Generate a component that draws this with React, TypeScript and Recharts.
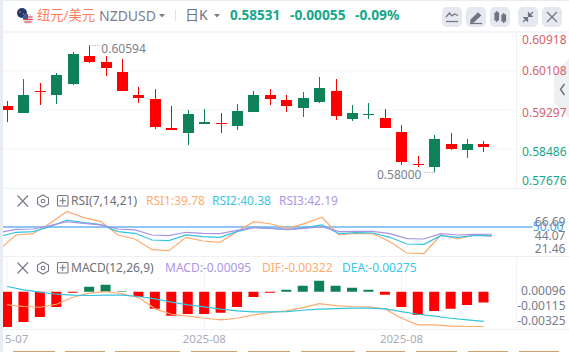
import { ComposedChart, Bar, Line, Cell, XAxis, YAxis, CartesianGrid, ReferenceLine, ReferenceDot } from "recharts";

const dates = [
  "2025-07-18", "2025-07-21", "2025-07-22", "2025-07-23", "2025-07-24", "2025-07-25",
  "2025-07-28", "2025-07-29", "2025-07-30", "2025-07-31", "2025-08-01", "2025-08-04",
  "2025-08-05", "2025-08-06", "2025-08-07", "2025-08-08", "2025-08-11", "2025-08-12",
  "2025-08-13", "2025-08-14", "2025-08-15", "2025-08-18", "2025-08-19", "2025-08-20",
  "2025-08-21", "2025-08-22", "2025-08-25", "2025-08-26", "2025-08-27", "2025-08-28",
];
const opens = [
  0.5938, 0.59235, 0.59699, 0.59609, 0.59837, 0.60419, 0.60295, 0.60087, 0.59609, 0.59526,
  0.58923, 0.58819, 0.59006, 0.59027, 0.58965, 0.59256, 0.59609, 0.59505, 0.59339, 0.59463,
  0.59692, 0.5911, 0.59193, 0.59131, 0.5884, 0.58175, 0.58113, 0.58591, 0.58466, 0.58586,
];
const closes = [
  0.59297, 0.59609, 0.59671, 0.60024, 0.60461, 0.60295, 0.6017, 0.59692, 0.59546, 0.58944,
  0.58881, 0.59214, 0.59048, 0.59006, 0.59276, 0.59609, 0.59526, 0.5938, 0.59546, 0.59754,
  0.59172, 0.59235, 0.59214, 0.58923, 0.58216, 0.58154, 0.58694, 0.58487, 0.58591, 0.58531,
];
const highs = [
  0.59484, 0.59941, 0.59858, 0.60066, 0.60502, 0.60641, 0.60419, 0.60357, 0.59775, 0.59733,
  0.5938, 0.59297, 0.59318, 0.59235, 0.59422, 0.59692, 0.59733, 0.59609, 0.59671, 0.59983,
  0.59941, 0.59401, 0.59443, 0.59318, 0.58985, 0.58341, 0.58778, 0.58819, 0.58694, 0.58653,
];
const lows = [
  0.59048, 0.59235, 0.59401, 0.59422, 0.59817, 0.60274, 0.60004, 0.59692, 0.59443, 0.58902,
  0.58881, 0.5857, 0.59006, 0.58819, 0.58881, 0.59586, 0.59401, 0.59256, 0.59152, 0.59443,
  0.59089, 0.59068, 0.5911, 0.58923, 0.58154, 0.58113, 0.58, 0.58466, 0.583, 0.58424,
];
const rsi1 = [
  25.3, 41.4, 42.8, 53.9, 66.69, 60.0, 55.7, 41.4, 37.1, 25.6, 24.6, 38.9, 34.9, 33.5, 45.0,
  55.7, 53.2, 48.6, 53.9, 60.4, 41.4, 43.2, 42.8, 34.2, 22.0, 21.46, 41.4, 37.1, 41.4, 39.78,
];
const rsi2 = [
  39.6, 44.3, 45.0, 50.4, 57.5, 54.7, 52.5, 45.0, 43.2, 36.0, 35.3, 41.4, 39.6, 38.9, 45.0,
  49.6, 48.6, 47.1, 49.3, 52.2, 42.8, 43.9, 43.5, 38.9, 31.7, 31.4, 40.7, 38.9, 41.0, 40.38,
];
const rsi3 = [
  43.9, 47.5, 47.8, 51.4, 55.7, 53.9, 52.2, 47.8, 46.8, 41.4, 40.7, 44.3, 43.2, 42.8, 46.4,
  49.3, 48.6, 47.5, 48.6, 50.4, 45.0, 45.3, 45.3, 42.8, 37.5, 37.1, 42.8, 41.4, 42.1, 42.19,
];
const hist = [
  -0.00326, -0.00279, -0.00233, -0.0014, -0.00009, 0.00047, 0.00065, 0.00006, -0.00047, -0.00158,
  -0.00223, -0.00205, -0.00205, -0.00195, -0.0014, -0.00047, -0.00009, 0.00019, 0.00056, 0.00102,
  0.00056, 0.00037, 0.00019, -0.00028, -0.0014, -0.00214, -0.00177, -0.00158, -0.00121, -0.001,
];
const dif = [
  -0.00121, -0.00136, -0.00143, -0.00115, -0.0005, -0.00012, 0.00003, -0.00019, -0.00053, -0.00158,
  -0.00208, -0.00226, -0.00245, -0.0026, -0.00245, -0.00214, -0.00192, -0.00177, -0.00146, -0.00109,
  -0.00127, -0.00136, -0.0014, -0.00158, -0.00245, -0.00307, -0.00307, -0.00319, -0.00322, -0.00322,
];
const dea = [
  0.0005, 0.00019, -0.00003, -0.00022, -0.00031, -0.00034, -0.00031, -0.00031, -0.00043, -0.00065,
  -0.00096, -0.00121, -0.0014, -0.00161, -0.00177, -0.00186, -0.00186, -0.00183, -0.00171, -0.00161,
  -0.00155, -0.00152, -0.00152, -0.00158, -0.00183, -0.00208, -0.00226, -0.00245, -0.0026, -0.00275,
];
const priceTicks = [0.60918, 0.60108, 0.59297, 0.58486, 0.57676];
const rsiTicks = [66.69, 44.07, 21.46];
const macdTicks = [0.00096, -0.00115, -0.00325];
const dateTicks = [dates[0], dates[12], dates[24]];

const candles = dates.map((date, i) => ({
  date,
  open: opens[i],
  close: closes[i],
  high: highs[i],
  low: lows[i],
}));
const rsiRows = dates.map((date, i) => ({ date, rsi1: rsi1[i], rsi2: rsi2[i], rsi3: rsi3[i] }));
const macdRows = dates.map((date, i) => ({ date, hist: hist[i], dif: dif[i], dea: dea[i] }));

const FONT = '"Noto Sans", "Noto Sans CJK SC", sans-serif';
const RED = "#ff0000";
const GREEN = "#0f8158";
const TEAL = "#16a78a";
const ORANGE = "#ffaa70";
const CYAN = "#33c4df";
const PURPLE = "#ab92e6";
const AXIS_GRAY = "#777c8a";
const GRID = "#f3f4f7";
const CHART_W = 570.5;
const PADDING = { left: 0, right: 24.6 };
const LINE_W = 1.2;

function Candle(props: any) {
  const { x, y, width, height, payload } = props;
  const perUnit = height / (payload.high - payload.low);
  const at = (v: number) => y + (payload.high - v) * perUnit;
  const up = payload.close >= payload.open;
  const color = up ? GREEN : RED;
  const top = Math.round(at(Math.max(payload.open, payload.close)));
  const bodyH = Math.max(1, Math.round(at(Math.min(payload.open, payload.close))) - top);
  const left = Math.round(x);
  return (
    <g>
      <rect x={left + 5} y={y} width={1} height={height} fill={color} />
      <rect x={left} y={top} width={11} height={bodyH} fill={color} />
    </g>
  );
}

const priceOffset: Record<number, number> = { 0.60918: 7, 0.60108: 0, 0.59297: 2, 0.58486: 2, 0.57676: -8 };

function PriceTick({ x, y, payload }: any) {
  return (
    <text
      x={x + 48}
      y={y + (priceOffset[payload.value] ?? 0)}
      textAnchor="end"
      dominantBaseline="central"
      fontSize={12}
      fontFamily={FONT}
      fill={payload.value > 0.59 ? "#d95f6d" : TEAL}
    >
      {payload.value.toFixed(5)}
    </text>
  );
}

function grayTick(digits: number) {
  return ({ x, y, payload }: any) => (
    <text
      x={x + 47}
      y={y}
      textAnchor="end"
      dominantBaseline="central"
      fontSize={12}
      fontFamily={FONT}
      fill={AXIS_GRAY}
    >
      {payload.value.toFixed(digits)}
    </text>
  );
}

// first month label sits against the left edge, only its tail is visible
function DateTick({ x, y, payload, index }: any) {
  const month = payload.value.slice(0, 7);
  return (
    <text x={index === 0 ? x + 9.5 : x} y={y + 7.5} textAnchor="middle" fontSize={11.5} fontFamily={FONT} fill="#a9acb8">
      {index === 0 ? month.slice(3) : month}
    </text>
  );
}

function HighNote({ cx, cy }: any) {
  return (
    <g>
      <line x1={cx + 3} x2={cx + 11} y1={cy - 2} y2={cy - 2} stroke="#9a9ea9" strokeDasharray="1 1.5" />
      <text x={cx + 12} y={cy + 1} dominantBaseline="central" fontSize={12} fontFamily={FONT} fill="#7d818d">
        0.60594
      </text>
    </g>
  );
}

function LowNote({ cx, cy }: any) {
  return (
    <g>
      <line x1={cx - 10} x2={cx - 1} y1={cy} y2={cy} stroke="#9a9ea9" strokeDasharray="1 1.5" />
      <text x={cx - 13} y={cy + 2} textAnchor="end" dominantBaseline="central" fontSize={12} fontFamily={FONT} fill="#7d818d">
        0.58000
      </text>
    </g>
  );
}

function FiftyLine({ x1, x2, y1, y2 }: any) {
  return (
    <g>
      <line x1={x1} x2={x2 + 16} y1={y1} y2={y2} stroke="#8fc6f5" strokeWidth={2} />
      <text x={x2 + 47} y={y1} textAnchor="end" dominantBaseline="central" fontSize={12} fontFamily={FONT} fill="#3e9ff0">
        50.00
      </text>
    </g>
  );
}

function Txt({ x, y, color, size = 12, weight = 400, children }: any) {
  return (
    <div
      style={{
        position: "absolute",
        left: x,
        top: y - 10,
        height: 20,
        lineHeight: "20px",
        color,
        fontSize: size,
        fontWeight: weight,
        fontFamily: FONT,
        whiteSpace: "nowrap",
      }}
    >
      {children}
    </div>
  );
}

function Box({ x, y, w, h, bg, radius = 0 }: any) {
  return <div style={{ position: "absolute", left: x, top: y, width: w, height: h, background: bg, borderRadius: radius }} />;
}

function Caret({ x, y }: any) {
  return (
    <svg style={{ position: "absolute", left: x, top: y }} width={6} height={4}>
      <path d="M0 0 L6 0 L3 3.5 Z" fill="#7a7f8c" />
    </svg>
  );
}

function ToolButton({ x, children }: any) {
  return (
    <svg style={{ position: "absolute", left: x, top: 7 }} width={20} height={20}>
      <rect width={20} height={20} rx={5} fill="#e5e8ef" />
      <g stroke="#6f7480" fill="#6f7480" strokeWidth={1.2}>
        {children}
      </g>
    </svg>
  );
}

function PaneIcons({ y }: any) {
  return (
    <svg style={{ position: "absolute", left: 16, top: y - 7 }} width={54} height={14} fill="none" stroke="#737884">
      <path d="M1.5 1.5 L12 12.5 M12 1.5 L1.5 12.5" strokeWidth={1.1} />
      <path d="M27 1 L32.5 4 L32.5 10 L27 13 L21.5 10 L21.5 4 Z" strokeWidth={1.1} />
      <circle cx={27} cy={7} r={1.8} strokeWidth={1.1} />
      <rect x={41.5} y={1.5} width={10.5} height={10.5} rx={1} strokeWidth={1.1} />
      <path d="M46.7 3.5 L46.7 10 M43.5 6.7 L50 6.7" strokeWidth={1.1} />
    </svg>
  );
}

const tabs = [
  [13, 42], [65, 40], [115, 65], [191, 46], [248, 42], [301, 54], [366, 39], [416, 41], [468, 40], [519, 40],
];

export default function App() {
  return (
    <div style={{ position: "absolute", left: 0, top: 0, width: 569, height: 352, overflow: "hidden", background: "#fff" }}>
      {/* side tab sits behind the axis labels */}
      <svg style={{ position: "absolute", left: 554, top: 58 }} width={15} height={61}>
        <path d="M15 0 L0 17 L0 44 L15 61 Z" fill="#eef0f4" />
        <path d="M10.5 26 L6.5 31.5 L10.5 37" fill="none" stroke="#6f7480" strokeWidth={1.5} />
      </svg>

      {/* price pane */}
      <div style={{ position: "absolute", left: -1.5, top: 32 }}>
        <ComposedChart width={CHART_W} height={156} data={candles} margin={{ top: 0, right: 0, bottom: 0, left: 0 }}>
          <CartesianGrid stroke={GRID} />
          <XAxis dataKey="date" ticks={dateTicks} interval={0} padding={PADDING} height={0} tick={false} axisLine={false} tickLine={false} />
          <YAxis
            orientation="right"
            width={53}
            domain={[0.57676, 0.60918]}
            ticks={priceTicks}
            interval={0}
            allowDataOverflow
            axisLine={false}
            tickLine={false}
            tickSize={0}
            tick={<PriceTick />}
          />
          <Bar dataKey={(d: any) => [d.low, d.high]} barSize={11} shape={<Candle />} isAnimationActive={false} />
          <ReferenceDot x={dates[5]} y={0.60594} shape={<HighNote />} />
          <ReferenceDot x={dates[26]} y={0.58} shape={<LowNote />} />
        </ComposedChart>
      </div>

      {/* RSI pane */}
      <div style={{ position: "absolute", left: -1.5, top: 188 }}>
        <ComposedChart width={CHART_W} height={68} data={rsiRows} margin={{ top: 0, right: 0, bottom: 0, left: 0 }}>
          <XAxis dataKey="date" ticks={dateTicks} interval={0} padding={PADDING} height={0} tick={false} axisLine={false} tickLine={false} />
          <YAxis yAxisId="rsi" hide domain={[18.8, 91.9]} allowDataOverflow />
          <YAxis
            yAxisId="labels"
            orientation="right"
            width={53}
            domain={[9.86, 122.5]}
            ticks={rsiTicks}
            interval={0}
            allowDataOverflow
            axisLine={false}
            tickLine={false}
            tickSize={0}
            tick={grayTick(2)}
          />
          <ReferenceLine yAxisId="rsi" y={50} shape={<FiftyLine />} />
          <Line yAxisId="rsi" dataKey="rsi1" stroke={ORANGE} strokeWidth={LINE_W} dot={false} isAnimationActive={false} />
          <Line yAxisId="rsi" dataKey="rsi2" stroke={CYAN} strokeWidth={LINE_W} dot={false} isAnimationActive={false} />
          <Line yAxisId="rsi" dataKey="rsi3" stroke={PURPLE} strokeWidth={LINE_W} dot={false} isAnimationActive={false} />
        </ComposedChart>
      </div>

      {/* MACD pane */}
      <div style={{ position: "absolute", left: -1.5, top: 256 }}>
        <ComposedChart width={CHART_W} height={96} data={macdRows} margin={{ top: 0, right: 0, bottom: 0, left: 0 }}>
          <CartesianGrid stroke={GRID} horizontal={false} />
          <XAxis
            dataKey="date"
            ticks={dateTicks}
            interval={0}
            padding={PADDING}
            height={23}
            axisLine={false}
            tickLine={false}
            tickMargin={0}
            tick={<DateTick />}
          />
          <YAxis yAxisId="macd" hide domain={[-0.00345, 0.00333]} allowDataOverflow />
          <YAxis
            yAxisId="labels"
            orientation="right"
            width={53}
            domain={[-0.00453, 0.00588]}
            ticks={macdTicks}
            interval={0}
            allowDataOverflow
            axisLine={false}
            tickLine={false}
            tickSize={0}
            tick={grayTick(5)}
          />
          <Bar yAxisId="macd" dataKey="hist" barSize={10} isAnimationActive={false}>
            {macdRows.map((r) => (
              <Cell key={r.date} fill={r.hist >= 0 ? GREEN : RED} />
            ))}
          </Bar>
          <Line yAxisId="macd" dataKey="dif" stroke={ORANGE} strokeWidth={LINE_W} dot={false} isAnimationActive={false} />
          <Line yAxisId="macd" dataKey="dea" stroke={CYAN} strokeWidth={LINE_W} dot={false} isAnimationActive={false} />
        </ComposedChart>
      </div>

      {/* frame and pane borders */}
      <Box x={0} y={0} w={3} h={352} bg="#e8ecf3" />
      <Box x={0} y={0} w={569} h={1} bg="#e8ecf3" />
      <Box x={3} y={31} w={566} h={2} bg="#f4f5f8" />
      <Box x={3} y={188} w={566} h={1} bg="#eef0f4" />
      <Box x={3} y={256} w={566} h={1} bg="#eef0f4" />
      <Box x={3} y={329} w={566} h={1} bg="#eef0f4" />
      <Box x={516} y={32} w={1} h={156} bg="#eef0f4" />
      {tabs.map(([x, w]) => (
        <Box key={x} x={x} y={351} w={w} h={1} bg="#c9a36a" />
      ))}

      {/* header */}
      <svg style={{ position: "absolute", left: 16, top: 7 }} width={18} height={18}>
        <circle cx={6} cy={6} r={5} fill="#1f3a6e" />
        <circle cx={4} cy={5} r={1} fill="#d9435a" />
        <circle cx={7.5} cy={7} r={0.9} fill="#d9435a" />
        <circle cx={12} cy={12} r={5} fill="#f3d9dc" />
        <path d="M7.4 10 H16.6 M7.2 12.5 H16.8 M8.5 15 H15.5" stroke="#d9435a" strokeWidth={1.2} />
        <path d="M7 12 A5 5 0 0 1 12 7 V12 Z" fill="#44588c" />
      </svg>
      <Txt x={37} y={14.5} color="#fb7f5e" size={13.3}>纽元/美元</Txt>
      <Txt x={99} y={15.5} color="#7a7f8c" size={14}>NZDUSD</Txt>
      <Caret x={159} y={14} />
      <Box x={175} y={10} w={1} h={11} bg="#dfe2e8" />
      <Txt x={185} y={14.5} color="#6e7380" size={14}>日K</Txt>
      <Caret x={214} y={14} />
      <Txt x={230} y={14.5} color={TEAL} size={13.5} weight={700}>0.58531</Txt>
      <Txt x={290} y={14.5} color={TEAL} size={13.8} weight={700}>-0.00055</Txt>
      <Txt x={355} y={14.5} color={TEAL} size={13.8} weight={700}>-0.09%</Txt>

      <ToolButton x={442}>
        <path d="M4 10 L7.5 6 L10 9 L12.5 7 L16 8.5" fill="none" />
        <path d="M4 14.5 H16" fill="none" />
      </ToolButton>
      <ToolButton x={466}>
        <path d="M5 13 L12 6 L14.5 8.5 L7.5 15 L5 15.5 Z" />
        <path d="M4 16.5 H16" fill="none" />
      </ToolButton>
      <ToolButton x={490}>
        <rect x={5} y={6} width={3.5} height={7} />
        <path d="M6.7 4 V15" fill="none" />
        <rect x={12} y={8} width={3.5} height={6} />
        <path d="M13.7 6 V16" fill="none" />
      </ToolButton>
      <ToolButton x={518}>
        <path d="M5 15 L9 11 M15 5 L11 9" fill="none" />
        <path d="M6 10.5 H9.5 V14 Z M14 9.5 H10.5 V6 Z" />
      </ToolButton>
      <ToolButton x={542}>
        <path d="M5 5 L15 15 M15 5 L5 15" fill="none" />
      </ToolButton>

      {/* RSI title row */}
      <PaneIcons y={200.5} />
      <Txt x={71} y={200.5} color="#6b7078">RSI(7,14,21)</Txt>
      <Txt x={146} y={200.5} color="#ffab6e">RSI1:39.78</Txt>
      <Txt x={212} y={200.5} color="#3cc6e6">RSI2:40.38</Txt>
      <Txt x={279} y={200.5} color="#ad95e8">RSI3:42.19</Txt>

      {/* MACD title row */}
      <PaneIcons y={268} />
      <Txt x={71} y={268} color="#6b7078">MACD(12,26,9)</Txt>
      <Txt x={165} y={268} color="#ad95e8">MACD:-0.00095</Txt>
      <Txt x={262} y={268} color="#ffab6e">DIF:-0.00322</Txt>
      <Txt x={342} y={268} color="#3cc6e6">DEA:-0.00275</Txt>
    </div>
  );
}
